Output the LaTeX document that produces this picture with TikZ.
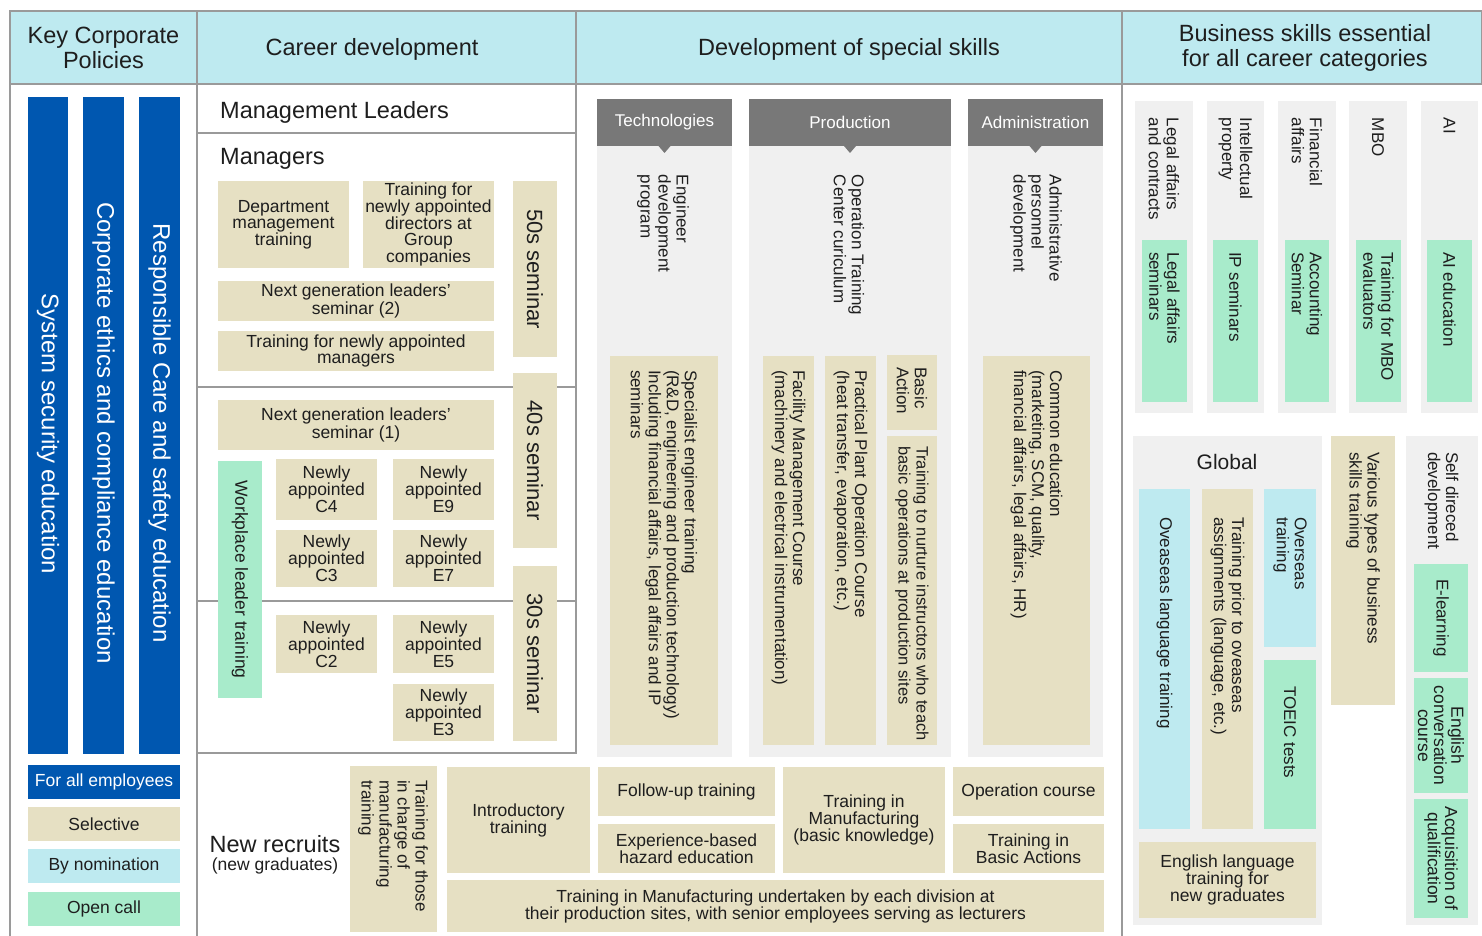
\documentclass[tikz,border=0pt]{standalone}
\usepackage{fontspec}
\setmainfont{Liberation Sans}
\definecolor{hdr}{HTML}{BEEAF0}
\definecolor{blu}{HTML}{0057B0}
\definecolor{tanc}{HTML}{E6E0C3}
\definecolor{grn}{HTML}{A8EBCB}
\definecolor{cya}{HTML}{BEEAF0}
\definecolor{lgr}{HTML}{F0F0F0}
\definecolor{dgr}{HTML}{787878}
\definecolor{brd}{HTML}{9A9A9A}
\definecolor{txt}{HTML}{1E1E1E}
\newcommand\mybx[7]{%
  \pgfmathsetmacro\BW{#5-#3}\pgfmathsetmacro\BH{#6-#4}%
  \pgfmathsetmacro\CX{(#3+#5)/2}\pgfmathsetmacro\CY{-(#4+#6)/2}%
  \node[#2, minimum width=\BW pt, minimum height=\BH pt] (#1) at (\CX,\CY) {#7};}
\newcommand\myvbx[7]{%
  \pgfmathsetmacro\BW{#5-#3}\pgfmathsetmacro\BH{#6-#4}%
  \pgfmathsetmacro\CX{(#3+#5)/2}\pgfmathsetmacro\CY{-(#4+#6)/2}%
  \node[#2, rotate=-90, minimum width=\BH pt, minimum height=\BW pt] (#1) at (\CX,\CY) {#7};}
\newcommand\myvlab[5]{%
  \node[#2, rotate=-90, anchor=west, align=left, inner sep=0pt, outer sep=0pt, text=txt] (#1) at (#3,-#4) {#5};}
\tikzset{
  box/.style={inner sep=0pt, outer sep=0pt, draw=none, text=txt, align=center},
  hdrb/.style={box, fill=hdr, draw=brd, line width=1.5pt},
  tanb/.style={box, fill=tanc},
  grnb/.style={box, fill=grn},
  cyab/.style={box, fill=cya},
  lgrb/.style={box, fill=lgr},
  blub/.style={box, fill=blu, text=white},
  dgrb/.style={box, fill=dgr, text=white},
  frame/.style={draw=brd, line width=1.5pt},
  lbl/.style={inner sep=0pt, outer sep=0pt, text=txt, align=center},
  fH/.style={font=\fontsize{23.5}{25}\selectfont},
  fM/.style={font=\fontsize{23.5}{26}\selectfont},
  fB/.style={font=\fontsize{24}{26}\selectfont},
  fS/.style={font=\fontsize{22}{24}\selectfont},
  fA/.style={font=\fontsize{17.5}{16}\selectfont},
  fN/.style={font=\fontsize{17.5}{17}\selectfont},
  fR/.style={font=\fontsize{17}{18}\selectfont},
  fT/.style={font=\fontsize{16.5}{18}\selectfont},
  fW/.style={font=\fontsize{17}{18}\selectfont},
  fG/.style={font=\fontsize{21}{24}\selectfont},
}
\begin{document}
\begin{tikzpicture}[x=1pt,y=1pt]
\useasboundingbox (0,0) rectangle (1482,-936);
\fill[white] (0,0) rectangle (1482,-936);
% header
\mybx{hkey}{hdrb}{10}{11}{197}{84}{}
\mybx{hcar}{hdrb}{197}{11}{576}{84}{}
\mybx{hdev}{hdrb}{576}{11}{1122}{84}{}
\mybx{hbus}{hdrb}{1122}{11}{1482}{84}{}
\node[lbl,fH] (hkeyt) at (103.5,-48) {Key Corporate\\Policies};
\node[lbl,fH] (hcart) at (372,-49) {Career development};
\node[lbl,fH] (hdevt) at (849,-49) {Development of special skills};
\node[lbl,fH] (hbust) at (1305,-48) {Business skills essential\\for all career categories};
% frame
\draw[frame] (10,-84) -- (10,-936);
\draw[frame] (197,-84) -- (197,-936);
\draw[frame] (1122,-84) -- (1122,-936);
\draw[frame] (197,-84) rectangle (576,-753);
\draw[frame] (197,-133) -- (576,-133);
\draw[frame] (197,-387) -- (576,-387);
\draw[frame] (197,-601) -- (576,-601);
% blue bars
\mybx{b1}{blub}{28}{97}{68}{754}{}
\mybx{b2}{blub}{83}{97}{124}{754}{}
\mybx{b3}{blub}{139}{97}{180}{754}{}
\node[lbl, fB, text=white, rotate=-90] (b1t) at (48,-434) {System security education};
\node[lbl, fB, text=white, rotate=-90] (b2t) at (103.5,-433) {Corporate ethics and compliance education};
\node[lbl, fB, text=white, rotate=-90] (b3t) at (159.5,-433) {Responsible Care and safety education};
% legend
\mybx{lall}{blub,fA}{28}{765}{180}{799}{For all employees}
\mybx{lsel}{tanb,fA}{28}{807}{180}{841}{Selective}
\mybx{lnom}{cyab,fA}{28}{849}{180}{883}{By nomination}
\mybx{lopen}{grnb,fA}{28}{892}{180}{926}{Open call}
% career development
\node[fM, anchor=west, inner sep=0pt, text=txt] (ml) at (220,-112) {Management Leaders};
\node[fM, anchor=west, inner sep=0pt, text=txt] (mg) at (220,-159) {Managers};
\mybx{dept}{tanb,fA}{218}{181}{349}{268}{Department\\management\\training}
\mybx{dir}{tanb,fA}{363}{181}{494}{268}{Training for\\newly appointed\\directors at\\Group\\companies}
\myvbx{s50}{tanb,fS}{513}{181}{557}{357}{50s seminar}
\mybx{ng2}{tanb,fA}{218}{281}{494}{321}{Next generation leaders'\\seminar (2)}
\mybx{tnm}{tanb,fA}{218}{331}{494}{371}{Training for newly appointed\\managers}
\myvbx{s40}{tanb,fS}{513}{373}{557}{548}{40s seminar}
\mybx{ng1}{tanb,fA}{218}{400}{494}{450}{Next generation leaders'\\seminar (1)}
\myvbx{wlt}{grnb,fA}{218}{461}{262}{698}{Workplace leader training}
\mybx{c4}{tanb,fN}{276}{459}{377}{520}{Newly\\appointed\\C4}
\mybx{e9}{tanb,fN}{393}{459}{494}{520}{Newly\\appointed\\E9}
\mybx{c3}{tanb,fN}{276}{530}{377}{587}{Newly\\appointed\\C3}
\mybx{e7}{tanb,fN}{393}{530}{494}{587}{Newly\\appointed\\E7}
\myvbx{s30}{tanb,fS}{513}{566}{557}{741}{30s seminar}
\mybx{c2}{tanb,fN}{276}{615}{377}{673}{Newly\\appointed\\C2}
\mybx{e5}{tanb,fN}{393}{615}{494}{673}{Newly\\appointed\\E5}
\mybx{e3}{tanb,fN}{393}{684}{494}{741}{Newly\\appointed\\E3}
% special skills
\mybx{tcol}{lgrb}{597}{99}{732}{757}{}
\mybx{pcol}{lgrb}{749}{99}{951}{757}{}
\mybx{acol}{lgrb}{968}{99}{1103}{757}{}
\mybx{th}{dgrb,fW}{597}{99}{732}{146}{Technologies}
\mybx{ph}{dgrb,fW}{749}{99}{951}{146}{Production}
\mybx{ah}{dgrb,fW}{968}{99}{1103}{146}{Administration}
\fill[dgr] (th.south) ++(-6,0) -- ++(12,0) -- ++(-6,-7) -- cycle;
\fill[dgr] (ph.south) ++(-6,0) -- ++(12,0) -- ++(-6,-7) -- cycle;
\fill[dgr] (ah.south) ++(-6,0) -- ++(12,0) -- ++(-6,-7) -- cycle;
\myvlab{eng}{fR}{663}{175}{Engineer\\development\\program}
\myvlab{otc}{fR}{849}{175}{Operation Training\\Center curiculum}
\myvlab{apd}{fR}{1036}{175}{Administrative\\personnel\\development}
\mybx{spec}{tanb}{610}{356}{718}{745}{}
\myvlab{spect}{fR}{664}{370}{Specialist engineer training\\(R\&D, engineering and production technology)\\Including financial affairs, legal affairs and IP\\seminars}
\mybx{fac}{tanb}{763}{356}{814}{745}{}
\myvlab{fact}{fR}{788.5}{370}{Facility Management Course\\(machinery and electrical instrumentation)}
\mybx{ppc}{tanb}{825}{356}{876}{745}{}
\myvlab{ppct}{fR}{850.5}{370}{Practical Plant Operation Course\\(heat transfer, evaporation, etc.)}
\mybx{ba}{tanb}{887}{355}{937}{430}{}
\myvlab{bat}{fR}{912}{367}{Basic\\Action}
\mybx{tni}{tanb}{887}{436}{937}{745}{}
\myvlab{tnit}{fT}{912}{446}{Training to nurture instructors who teach\\basic operations at production sites}
\mybx{com}{tanb}{983}{356}{1090}{745}{}
\myvlab{comt}{fR}{1036.5}{370}{Common education\\(marketing, SCM, quality,\\financial affairs, legal affairs, HR)}
% business skills
\mybx{r1}{lgrb}{1135}{101}{1193}{413}{}
\mybx{r2}{lgrb}{1207}{101}{1264}{413}{}
\mybx{r3}{lgrb}{1278}{101}{1336}{413}{}
\mybx{r4}{lgrb}{1349}{101}{1407}{413}{}
\mybx{r5}{lgrb}{1421}{101}{1478}{413}{}
\myvlab{r1t}{fR}{1164}{118}{Legal affairs\\and contracts}
\myvlab{r2t}{fR}{1235.5}{118}{Intellectual\\property}
\myvlab{r3t}{fR}{1307}{118}{Financial\\affairs}
\myvlab{r4t}{fR}{1378}{118}{MBO}
\myvlab{r5t}{fR}{1449.5}{118}{AI}
\mybx{g1}{grnb}{1142}{240}{1187}{402}{}
\mybx{g2}{grnb}{1213}{240}{1258}{402}{}
\mybx{g3}{grnb}{1285}{240}{1329}{402}{}
\mybx{g4}{grnb}{1356}{240}{1401}{402}{}
\mybx{g5}{grnb}{1427}{240}{1472}{402}{}
\myvlab{g1t}{fR}{1164.5}{252}{Legal affairs\\seminars}
\myvlab{g2t}{fR}{1235.5}{252}{IP seminars}
\myvlab{g3t}{fR}{1307}{252}{Accounting\\Seminar}
\myvlab{g4t}{fR}{1378.5}{252}{Training for MBO\\evaluators}
\myvlab{g5t}{fR}{1449.5}{252}{AI education}
% global
\mybx{glob}{lgrb}{1133}{436}{1322}{925}{}
\node[fG, text=txt, inner sep=0pt] (globt) at (1227,-462) {Global};
\mybx{olt}{cyab}{1139}{489}{1190}{829}{}
\myvlab{oltt}{fR}{1164.5}{517}{Oveaseas language training}
\mybx{tpo}{tanb}{1202}{489}{1253}{829}{}
\myvlab{tpot}{fR}{1227.5}{517}{Training prior to oveaseas\\assignments (language, etc.)}
\mybx{ovt}{cyab}{1264}{489}{1316}{647}{}
\myvlab{ovtt}{fR}{1290}{517}{Overseas\\training}
\mybx{toe}{grnb}{1264}{660}{1316}{829}{}
\myvlab{toet}{fR}{1290}{686}{TOEIC tests}
\mybx{elt}{tanb,fN}{1139}{842}{1316}{918}{English language\\training for\\new graduates}
\mybx{vtb}{tanb}{1331}{436}{1395}{705}{}
\myvlab{vtbt}{fR}{1363}{452}{Various types of business\\skills training}
\mybx{sdd}{lgrb}{1406}{436}{1478}{925}{}
\myvlab{sddt}{fR}{1441.5}{452}{Self direced\\development}
\myvbx{elr}{grnb,fR}{1414}{564}{1468}{672}{E-learning}
\myvbx{ecc}{grnb,fA}{1414}{678}{1468}{793}{English\\conversation\\course}
\myvbx{aoq}{grnb,fA}{1414}{799}{1468}{918}{Acquisition of\\qualification}
% new recruits
\node[fM, text=txt, inner sep=0pt] (nr) at (275,-844) {New recruits};
\node[fA, text=txt, inner sep=0pt] (ngr) at (275,-866) {(new graduates)};
\mybx{tfc}{tanb}{350}{766}{437}{932}{}
\myvlab{tfct}{fR}{393}{780}{Training for those\\in charge of\\manufacturing\\training}
\mybx{intro}{tanb,fN}{447}{767}{590}{873}{Introductory\\training}
\mybx{fut}{tanb,fN}{598}{767}{775}{816}{Follow-up training}
\mybx{exb}{tanb,fN}{598}{824}{775}{873}{Experience-based\\hazard education}
\mybx{tim}{tanb,fN}{783}{767}{945}{873}{Training in\\Manufacturing\\(basic knowledge)}
\mybx{opc}{tanb,fN}{953}{767}{1104}{816}{Operation course}
\mybx{tba}{tanb,fN}{953}{824}{1104}{873}{Training in\\Basic Actions}
\mybx{tmd}{tanb,fN}{447}{880}{1104}{932}{Training in Manufacturing undertaken by each division at\\their production sites, with senior employees serving as lecturers}
\end{tikzpicture}
\end{document}
